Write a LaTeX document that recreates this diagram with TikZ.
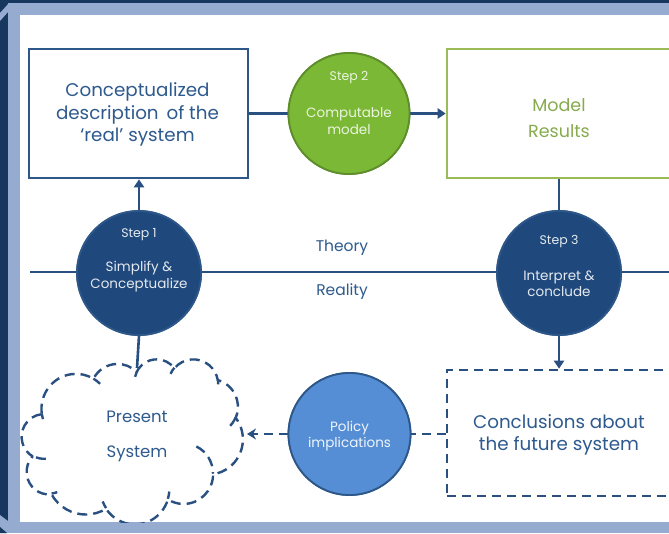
\documentclass[tikz,border=0pt]{standalone}
\usepackage{fontspec}
\setmainfont{Poppins}
\usetikzlibrary{arrows.meta}

\definecolor{framedark}{HTML}{17375E}
\definecolor{frameband}{HTML}{95ABCF}
\definecolor{navyfill}{HTML}{1F497D}
\definecolor{navyedge}{HTML}{2D5788}
\definecolor{linecol}{HTML}{2A5082}
\definecolor{textblue}{HTML}{2E5A8E}
\definecolor{stepgreen}{HTML}{7AB835}
\definecolor{greenedge}{HTML}{5E8E2B}
\definecolor{greenline}{HTML}{9BBB59}
\definecolor{greentext}{HTML}{86AC4E}
\definecolor{policyblue}{HTML}{558ED5}

\begin{document}
\begin{tikzpicture}[x=1pt,y=-1pt,
  mybox/.style={draw, line width=2.6pt, inner sep=0pt},
  stepcircle/.style={circle, inner sep=0pt, line width=1.8pt},
  conn/.style={draw=linecol, line width=2.6pt},
  dashconn/.style={conn, dash pattern=on 9pt off 6pt},
  solidtip/.style={-{Triangle[width=10pt,length=8pt]}},
  dashtip/.style={-{Stealth[width=11pt,length=9pt]}},
  boxtext/.style={text=textblue, align=center, inner sep=0pt, font=\fontsize{18.3}{22.5}\selectfont},
  steplabel/.style={text=#1, inner sep=0pt, font=\fontsize{12.5}{15}\selectfont},
  stepbody/.style={text=#1, align=center, inner sep=0pt, font=\fontsize{13.5}{16.5}\selectfont},
  axislabel/.style={text=textblue, inner sep=0pt, font=\fontsize{15.5}{18}\selectfont},
  ooarc/.style n args={4}{
    x radius=#1, y radius=#2,
    start angle={atan2(#1*sin(#3),#2*cos(#3))},
    delta angle={atan2(#1*sin(#3+#4),#2*cos(#3+#4)) - atan2(#1*sin(#3),#2*cos(#3))
      - 360*round((atan2(#1*sin(#3+#4),#2*cos(#3+#4)) - atan2(#1*sin(#3),#2*cos(#3)) - (#4))/360)}}
]
\useasboundingbox (0,0) rectangle (669,533);

% picture frame
\fill[framedark] (0,0) rectangle (669,533);
\fill[frameband] (8,3) rectangle (669,533);
\fill[frameband] (0,13) -- (9,3) -- (16,3) -- (0,21) -- cycle;
\fill[frameband] (0,515) -- (8,521) -- (8,533) -- (0,533) -- cycle;
\fill[framedark] (0,527) -- (7,533) -- (0,533) -- cycle;
\fill[white] (20,15) rectangle (669,522);

\begin{scope}
\clip (20,15) rectangle (669,522);

% theory / reality divide
\coordinate (divL) at (30,272);
\coordinate (divR) at (669,272);
\draw[conn] (divL) -- (divR);
\node[axislabel] (theory) at (342,248) {Theory};
\node[axislabel] (reality) at (342,292) {Reality};

% boxes
\node[mybox, draw=navyedge, minimum width=219, minimum height=129] (concept) at (138.5,113.5) {};
\node[boxtext] (concepttext) at (137.5,114.5) {Conceptualized\\description\, of the\\‘real’ system};

\node[mybox, draw=greenline, minimum width=240, minimum height=129] (model) at (567,113.5) {};
\node[boxtext, text=greentext, font=\fontsize{17.5}{26}\selectfont] (modeltext) at (559,118) {Model\\Results};

\node[mybox, draw=linecol, dash pattern=on 9pt off 6pt, minimum width=240, minimum height=126] (concl) at (567,433) {};
\node[boxtext] (concltext) at (559,435) {Conclusions about\\the future system};

% cloud for the present system
\node[inner sep=0pt, minimum width=221, minimum height=165] (cloud) at (132.5,441.5) {};
\coordinate (cloudtop) at (137,368);
\coordinate (cloudright) at (247,434);
\begin{scope}[shift={(cloud.north west)}, x=0.51157pt, y=-0.38194pt]
  \draw[linecol, line width=2.4pt, dash pattern=on 10pt off 6pt, line join=round]
    (39.00,143.70)
    arc[ooarc={67.53}{91.90}{-190.48748}{123.78053}]
    arc[ooarc={53.33}{72.67}{-144.10238}{89.94523}]
    arc[ooarc={43.65}{59.45}{-145.80792}{99.72302}]
    arc[ooarc={48.57}{65.95}{-130.98607}{117.24173}]
    arc[ooarc={53.33}{72.73}{-78.70888}{109.02692}]
    arc[ooarc={67.75}{92.20}{-46.26725}{130.26900}]
    arc[ooarc={57.85}{78.67}{0.62502}{114.03333}]
    arc[ooarc={67.52}{92.15}{22.45160}{115.17255}]
    arc[ooarc={77.20}{105.43}{66.24263}{75.71102}]
    arc[ooarc={43.60}{59.18}{-274.94208}{146.73557}]
    arc[ooarc={43.45}{59.45}{-246.82850}{152.51885}]
    -- cycle;
  \draw[linecol, line width=2.4pt, dash pattern=on 10pt off 6pt]
    (46.93,261.77) arc[ooarc={43.45}{59.45}{86.74200}{26.42950}]
    (69.28,348.99) arc[ooarc={43.60}{59.18}{73.61047}{11.44747}]
    (164.78,390.90) arc[ooarc={67.52}{92.15}{137.62415}{14.08110}]
    (288.27,347.51) arc[ooarc={67.52}{92.15}{6.45327}{15.99835}]
    (341.29,229.54) arc[ooarc={57.85}{78.67}{-70.29235}{70.91737}]
    (417.98,153.54) arc[ooarc={53.33}{72.73}{30.31803}{27.75150}]
    (383.24,54.26) arc[ooarc={48.57}{65.95}{-13.74433}{14.85890}]
    (290.78,39.52) arc[ooarc={48.57}{65.95}{-149.18145}{18.19537}]
    (221.41,47.20) arc[ooarc={43.65}{59.45}{-163.49427}{17.68635}]
    (140.00,51.92) arc[ooarc={67.53}{91.90}{-66.70695}{12.31935}]
    (41.27,157.89) arc[ooarc={67.53}{91.90}{157.65435}{11.85817}];
\end{scope}
\node[boxtext, font=\fontsize{16.5}{35}\selectfont] (cloudtext) at (137,436) {Present\\System};

% step circles
\node[stepcircle, fill=navyfill, draw=navyedge, minimum size=124] (step1) at (139,273) {};
\node[stepcircle, fill=stepgreen, draw=greenedge, minimum size=121] (step2) at (349,113.5) {};
\node[stepcircle, fill=navyfill, draw=navyedge, minimum size=124] (step3) at (559,273) {};
\node[stepcircle, fill=policyblue, draw=navyedge, minimum size=122] (policy) at (349.5,434) {};

% connectors
\draw[conn, solidtip] (step1.north) -- (step1.north |- concept.south);
\draw[conn] (concept.east) -- (step2.west);
\draw[conn, solidtip] (step2.east) -- (model.west);
\draw[conn] (step3.north |- model.south) -- (step3.north);
\draw[conn, solidtip] (step3.south) -- (step3.south |- concl.north);
\draw[conn] (step1.south) -- (cloudtop);
\draw[dashconn] (concl.west |- policy.east) -- (policy.east);
\draw[dashconn, dashtip] (policy.west) -- (cloudright);

% redraw circles over connector ends
\node[stepcircle, fill=navyfill, draw=navyedge, minimum size=124] (step1c) at (step1) {};
\node[stepcircle, fill=stepgreen, draw=greenedge, minimum size=121] (step2c) at (step2) {};
\node[stepcircle, fill=navyfill, draw=navyedge, minimum size=124] (step3c) at (step3) {};
\node[stepcircle, fill=policyblue, draw=navyedge, minimum size=122] (policyc) at (policy) {};

% circle texts
\node[steplabel=white!88!navyfill] (s1label) at (139,235) {Step 1};
\node[stepbody=white!88!navyfill] (s1body) at (139,276.5) {Simplify \&\\Conceptualize};
\node[steplabel=white!85!stepgreen] (s2label) at (349,78) {Step 2};
\node[stepbody=white!85!stepgreen] (s2body) at (349,121) {Computable\\model};
\node[steplabel=white!88!navyfill] (s3label) at (559,242) {Step 3};
\node[stepbody=white!88!navyfill] (s3body) at (559,284) {Interpret \&\\conclude};
\node[stepbody=white!90!policyblue] (polbody) at (349.5,436) {Policy\\implications};
\end{scope}
\end{tikzpicture}
\end{document}
